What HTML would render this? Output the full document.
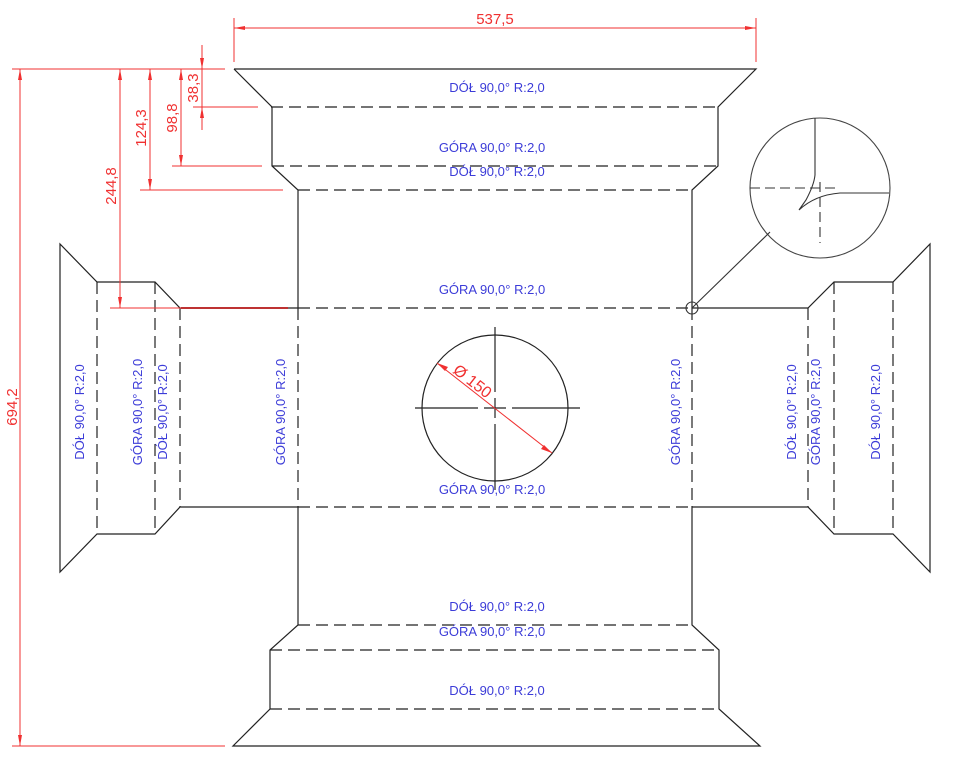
<!DOCTYPE html>
<html><head><meta charset="utf-8"><style>
html,body{margin:0;padding:0;background:#fff;}
svg{display:block;}
text{font-family:"Liberation Sans",sans-serif;}
.b{fill:#3c3cd8;font-size:13px;}
.r{fill:#f03030;font-size:15px;}
</style></head><body>
<svg width="953" height="764" viewBox="0 0 953 764" xmlns="http://www.w3.org/2000/svg">
<g stroke="#222" stroke-width="1.2" fill="none">
<path d="M234 69 H756 L718 107 V166 L692 190 V308"/>
<path d="M234 69 L272 107 V166 L298 190 V308"/>
<path d="M298 507 V625 L270 650 V709 L233 746 H760 L719 709 V650 L692 625 V507"/>
<path d="M298 308 H180 L155 282 H97 L60 244 V572 L97 534 H155 L180 507 H298"/>
<path d="M692 308 H808 L834 282 H893 L930 244 V572 L893 534 H834 L808 507 H692"/>
</g>
<g stroke="#222" stroke-width="1.2" fill="none" stroke-dasharray="12,6">
<path d="M271 107 H719 M272 166 H718 M298 190 H692 M298 308 H692 M298 507 H692 M298 625 H692 M270 650 H719 M270 709 H719"/>
<path d="M97 282 V534 M155 282 V534 M180 308 V507 M298 308 V507 M692 308 V507 M808 308 V507 M834 282 V534 M893 282 V534"/>
</g>
<circle cx="495" cy="408" r="73" stroke="#222" stroke-width="1.2" fill="none"/>
<g stroke="#222" stroke-width="1.2">
<path d="M415 408 H478 M484 408 H506 M512 408 H580 M495 327 V392 M495 398 V418 M495 424 V490"/>
</g>
<line x1="437" y1="363" x2="552" y2="453" stroke="#f03030" stroke-width="1"/>
<polygon points="437,363 448,367 445,371" fill="#f03030"/>
<polygon points="552,453 541,449 544,445" fill="#f03030"/>
<text class="r" transform="translate(452,372) rotate(38)" style="font-size:16px">Ø 150</text>
<circle cx="820" cy="188" r="70" stroke="#444" stroke-width="1.1" fill="none"/>
<g stroke="#333" stroke-width="1.1" fill="none">
<path d="M815 118 V175 Q814 185 806 200 L799 210 Q815 195 840 193 H889"/>
<path d="M750 188 H838 M820 182 V243" stroke-dasharray="10,5"/>
<path d="M692 308 L770 232"/>
<circle cx="692" cy="308" r="6"/>
</g>
<g stroke="#f03030" stroke-width="1" fill="none">
<path d="M234 18 V62 M756 18 V62 M234 28 H756"/>
<path d="M12 69 H225 M12 746 H225 M20 69 V746"/>
<path d="M120 69 V308 M110 308 H288"/>
<path d="M150 69 V190 M140 190 H283"/>
<path d="M181 69 V166 M172 166 H262"/>
<path d="M202 45 V130 M193 107 H258"/>
</g>
<line x1="181" y1="308" x2="288" y2="308" stroke="#b00" stroke-width="1.5"/>
<g fill="#f03030">
<polygon points="234,28 245,26 245,30"/><polygon points="756,28 745,26 745,30"/>
<polygon points="20,69 18,80 22,80"/><polygon points="20,746 18,735 22,735"/>
<polygon points="120,69 118,80 122,80"/><polygon points="120,308 118,297 122,297"/>
<polygon points="150,69 148,80 152,80"/><polygon points="150,190 148,179 152,179"/>
<polygon points="181,69 179,80 183,80"/><polygon points="181,166 179,155 183,155"/>
<polygon points="202,69 200,58 204,58"/><polygon points="202,107 200,118 204,118"/>
</g>
<text class="r" x="495" y="24" text-anchor="middle">537,5</text>
<text class="r" transform="translate(17,407) rotate(-90)" text-anchor="middle">694,2</text>
<text class="r" transform="translate(116,186) rotate(-90)" text-anchor="middle">244,8</text>
<text class="r" transform="translate(146,128) rotate(-90)" text-anchor="middle">124,3</text>
<text class="r" transform="translate(177,118) rotate(-90)" text-anchor="middle">98,8</text>
<text class="r" transform="translate(198,88) rotate(-90)" text-anchor="middle">38,3</text>
<g class="b" text-anchor="middle">
<text x="497" y="92">DÓŁ 90,0° R:2,0</text>
<text x="492" y="152">GÓRA 90,0° R:2,0</text>
<text x="497" y="176">DÓŁ 90,0° R:2,0</text>
<text x="492" y="294">GÓRA 90,0° R:2,0</text>
<text x="492" y="494">GÓRA 90,0° R:2,0</text>
<text x="497" y="611">DÓŁ 90,0° R:2,0</text>
<text x="492" y="636">GÓRA 90,0° R:2,0</text>
<text x="497" y="695">DÓŁ 90,0° R:2,0</text>
<text transform="translate(84,412) rotate(-90)">DÓŁ 90,0° R:2,0</text>
<text transform="translate(142,412) rotate(-90)">GÓRA 90,0° R:2,0</text>
<text transform="translate(167,412) rotate(-90)">DÓŁ 90,0° R:2,0</text>
<text transform="translate(285,412) rotate(-90)">GÓRA 90,0° R:2,0</text>
<text transform="translate(680,412) rotate(-90)">GÓRA 90,0° R:2,0</text>
<text transform="translate(796,412) rotate(-90)">DÓŁ 90,0° R:2,0</text>
<text transform="translate(820,412) rotate(-90)">GÓRA 90,0° R:2,0</text>
<text transform="translate(880,412) rotate(-90)">DÓŁ 90,0° R:2,0</text>
</g>
</svg>
</body></html>
